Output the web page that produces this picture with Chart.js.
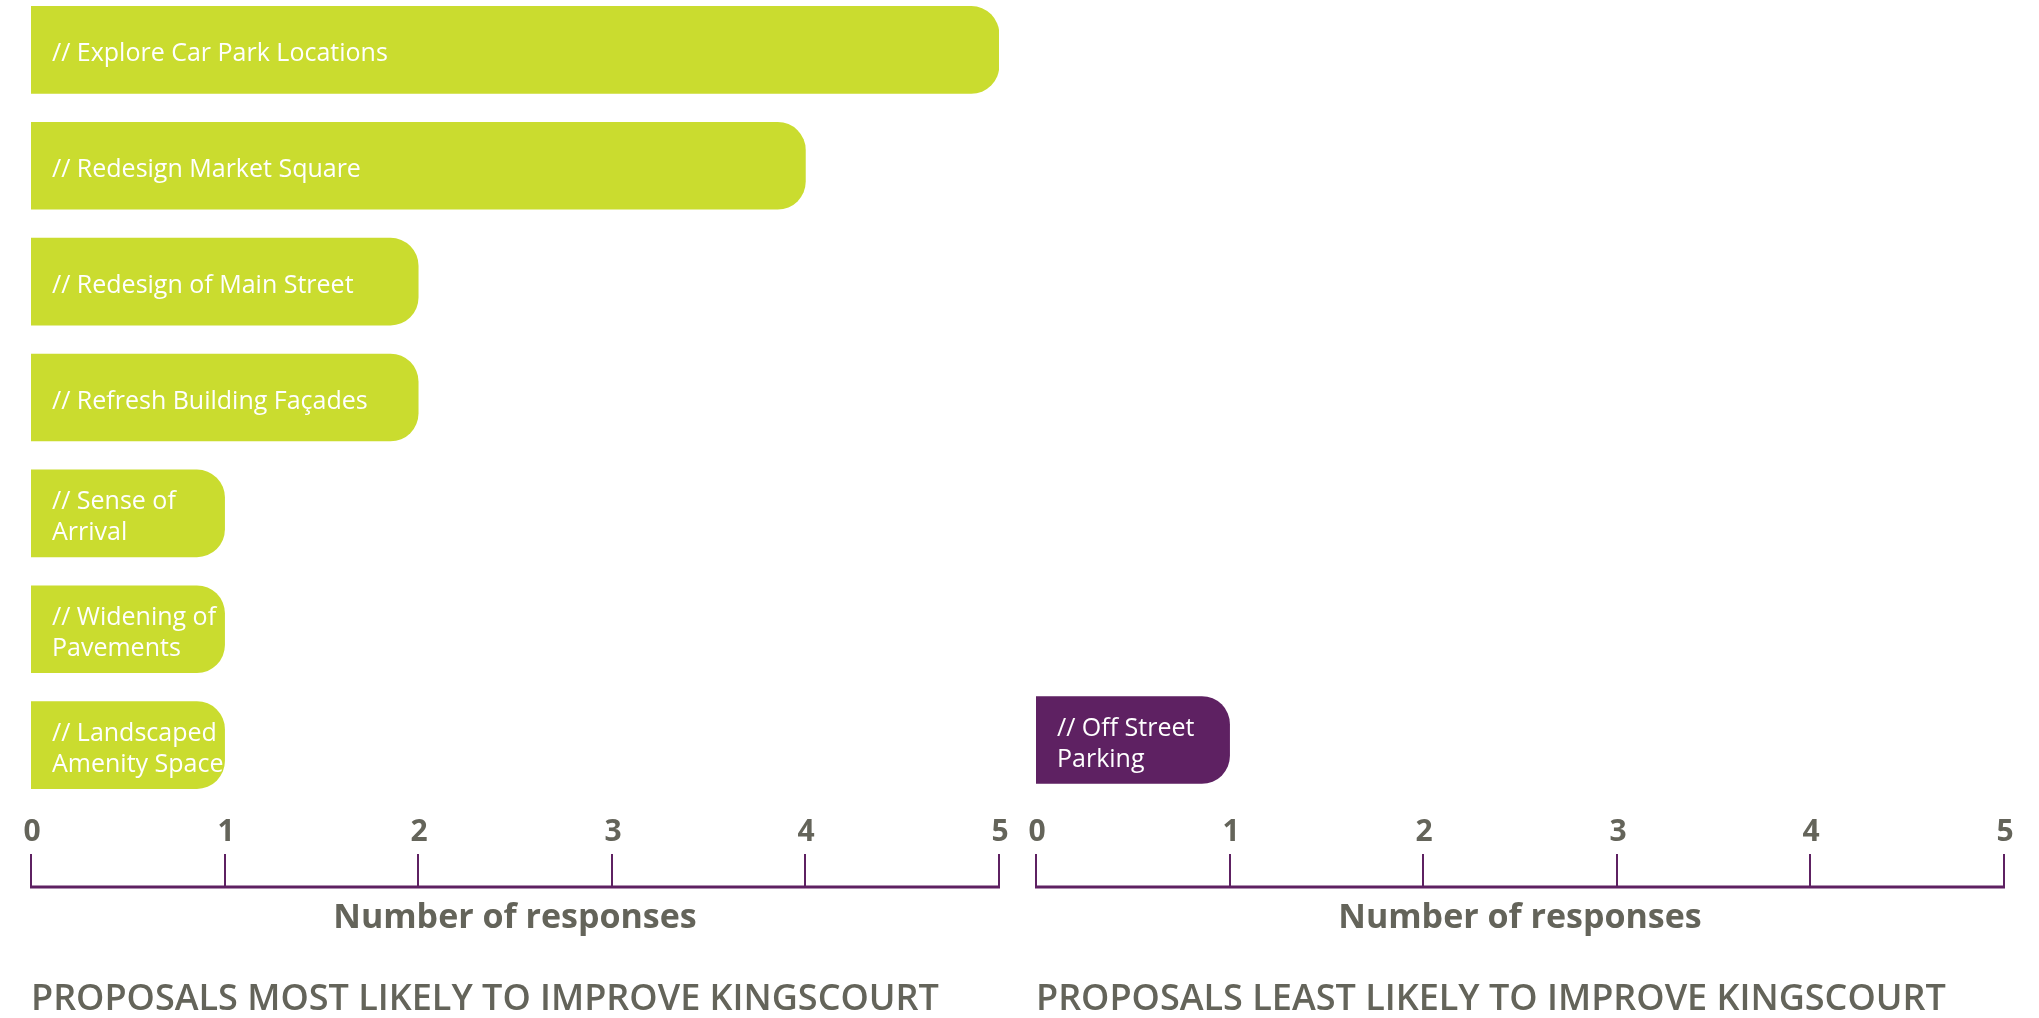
<!DOCTYPE html>
<html>
<head>
<meta charset="utf-8">
<script src="https://cdn.jsdelivr.net/npm/chart.js@4.4.1/dist/chart.umd.min.js"></script>
<style>
  html, body { margin: 0; padding: 0; background: #fff; overflow: hidden; }
  body { width: 2039px; height: 1018px; position: relative; }
  canvas { position: absolute; top: -8px; }
  #most { left: 0; }
  #least { left: 1018px; }
</style>
</head>
<body>
<canvas id="most" width="1018" height="1026"></canvas>
<canvas id="least" width="1021" height="1026"></canvas>
<script>
// proposals most likely to improve Kingscourt
const mostLabels = [
  ["// Explore Car Park Locations"],
  ["// Redesign Market Square"],
  ["// Redesign of Main Street"],
  ["// Refresh Building Façades"],
  ["// Sense of", "Arrival"],
  ["// Widening of", "Pavements"],
  ["// Landscaped", "Amenity Space"]
];
const mostValues = [5, 4, 2, 2, 1, 1, 1];

// proposals least likely
const leastLabels = [["// Off Street", "Parking"]];
const leastValues = [1];

const tickValues = [0, 1, 2, 3, 4, 5];
const axisTitle = "Number of responses";
const mostTitle = "PROPOSALS MOST LIKELY TO IMPROVE KINGSCOURT";
const leastTitle = "PROPOSALS LEAST LIKELY TO IMPROVE KINGSCOURT";

const GREEN = "#cadc2f";
const PURPLE = "#5e2162";
const GREY = "#64645a";

// white labels inside the bars
const barText = {
  id: "barText",
  afterDatasetsDraw(chart) {
    const ctx = chart.ctx;
    const meta = chart.getDatasetMeta(0);
    ctx.save();
    ctx.fillStyle = "#fff";
    ctx.font = '25px "Open Sans"';
    ctx.textAlign = "left";
    ctx.textBaseline = "middle";
    meta.data.forEach((bar, i) => {
      const lines = chart.data.labels[i];
      const x0 = Math.min(bar.base, bar.x) + 21;
      lines.forEach((line, j) => {
        ctx.fillText(line, x0, bar.y + (j - (lines.length - 1) / 2) * 31 + 4);
      });
    });
    ctx.restore();
  }
};

// axis line with upward ticks, numbers above, titles below
const bottomAxis = {
  id: "bottomAxis",
  afterDraw(chart, args, opts) {
    const ctx = chart.ctx;
    const x = chart.scales.x;
    const area = chart.chartArea;
    const axisY = area.bottom + 84;
    ctx.save();
    ctx.strokeStyle = PURPLE;
    ctx.lineWidth = 3;
    ctx.beginPath();
    ctx.moveTo(x.getPixelForValue(0) - 1, axisY);
    ctx.lineTo(x.getPixelForValue(5) + 1, axisY);
    ctx.stroke();

    ctx.lineWidth = 2;
    ctx.fillStyle = GREY;
    ctx.font = 'bold 30px "Open Sans"';
    ctx.textAlign = "center";
    ctx.textBaseline = "middle";
    tickValues.forEach(v => {
      const px = Math.round(x.getPixelForValue(v));
      ctx.beginPath();
      ctx.moveTo(px, axisY - 33);
      ctx.lineTo(px, axisY);
      ctx.stroke();
      ctx.fillText(String(v), px + 1, axisY - 55);
    });

    ctx.font = 'bold 34px "Open Sans"';
    ctx.fillText(axisTitle, (x.getPixelForValue(0) + x.getPixelForValue(5)) / 2, axisY + 31);

    ctx.font = '600 36px "Open Sans"';
    ctx.textAlign = "left";
    ctx.fillText(opts.text, x.getPixelForValue(0), axisY + 113);
    ctx.restore();
  }
};

function makeChart(id, labels, values, color, title, padding) {
  return new Chart(document.getElementById(id), {
    type: "bar",
    data: {
      labels: labels,
      datasets: [{
        data: values,
        backgroundColor: color,
        borderWidth: 0,
        borderRadius: 28,
        borderSkipped: "start",
        barThickness: 87
      }]
    },
    options: {
      indexAxis: "y",
      responsive: false,
      animation: false,
      layout: { padding: padding },
      plugins: {
        legend: { display: false },
        tooltip: { enabled: false },
        bottomAxis: { text: title }
      },
      scales: {
        x: { type: "linear", min: 0, max: 5, display: false },
        y: { display: false }
      }
    },
    plugins: [barText, bottomAxis]
  });
}

makeChart("most", mostLabels, mostValues, GREEN, mostTitle,
  { left: 31, right: 19, top: 0, bottom: 215 });
makeChart("least", leastLabels, leastValues, PURPLE, leastTitle,
  { left: 18, right: 35, top: 685, bottom: 215 });
</script>
</body>
</html>
